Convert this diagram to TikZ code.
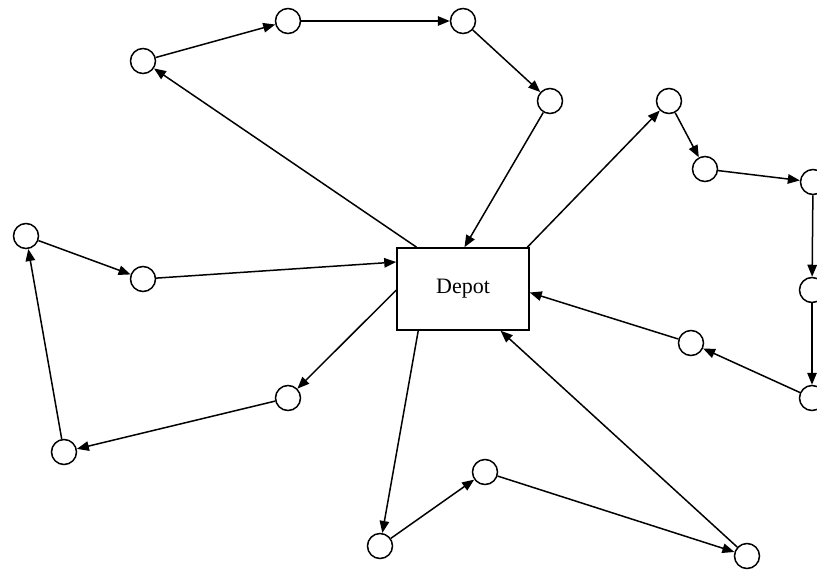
\documentclass[tikz,border=0pt]{standalone}
\usepackage{fontspec}
\setmainfont{Liberation Serif}
\usetikzlibrary{arrows.meta}
\begin{document}
\begin{tikzpicture}[x=1pt,y=-1pt,
  cust/.style={circle,draw=black,line width=1.5pt,fill=white,minimum size=25pt,inner sep=0pt},
  depotbox/.style={rectangle,draw=black,line width=1.5pt,fill=white,minimum width=132pt,minimum height=82pt,inner sep=0pt,font=\fontsize{22}{26}\selectfont},
  route/.style={line width=1.5pt,-{Triangle[length=12pt,width=9.5pt]}}]
\useasboundingbox (0,0) rectangle (817,571);
\node[depotbox] (depot) at (463,289) {Depot};
\node[cust] (A) at (143,61) {};
\node[cust] (B) at (288,21) {};
\node[cust] (C) at (463,21) {};
\node[cust] (D) at (550,101) {};
\node[cust] (E) at (669,101) {};
\node[cust] (F) at (705,169) {};
\node[cust] (G) at (813,182) {};
\node[cust] (H) at (812,290) {};
\node[cust] (I) at (812,398) {};
\node[cust] (J) at (691,343) {};
\node[cust] (K) at (747,556) {};
\node[cust] (L) at (485,472) {};
\node[cust] (M) at (380,546) {};
\node[cust] (N) at (288,398) {};
\node[cust] (O) at (64,452) {};
\node[cust] (P) at (26,236) {};
\node[cust] (Q) at (143,279) {};
% route 1
\draw[route] (depot.138.3) -- (A);
\draw[route] (A) -- (B);
\draw[route] (B) -- (C);
\draw[route] (C) -- (D);
\draw[route] (D) -- (depot.88.6);
% route 2
\draw[route] (depot.33.1) -- (E);
\draw[route] (E) -- (F);
\draw[route] (F) -- (G);
\draw[route] (G) -- (H);
\draw[route] (H) -- (I);
\draw[route] (I) -- (J);
\draw[route] (J) -- (depot.-3.5);
% route 3
\draw[route] (depot.-137.7) -- (M);
\draw[route] (M) -- (L);
\draw[route] (L) -- (K);
\draw[route] (K) -- (depot.-48);
% route 4
\draw[route] (depot.181.7) -- (N);
\draw[route] (N) -- (O);
\draw[route] (O) -- (P);
\draw[route] (P) -- (Q);
\draw[route] (Q) -- (depot.158.5);
\end{tikzpicture}
\end{document}
